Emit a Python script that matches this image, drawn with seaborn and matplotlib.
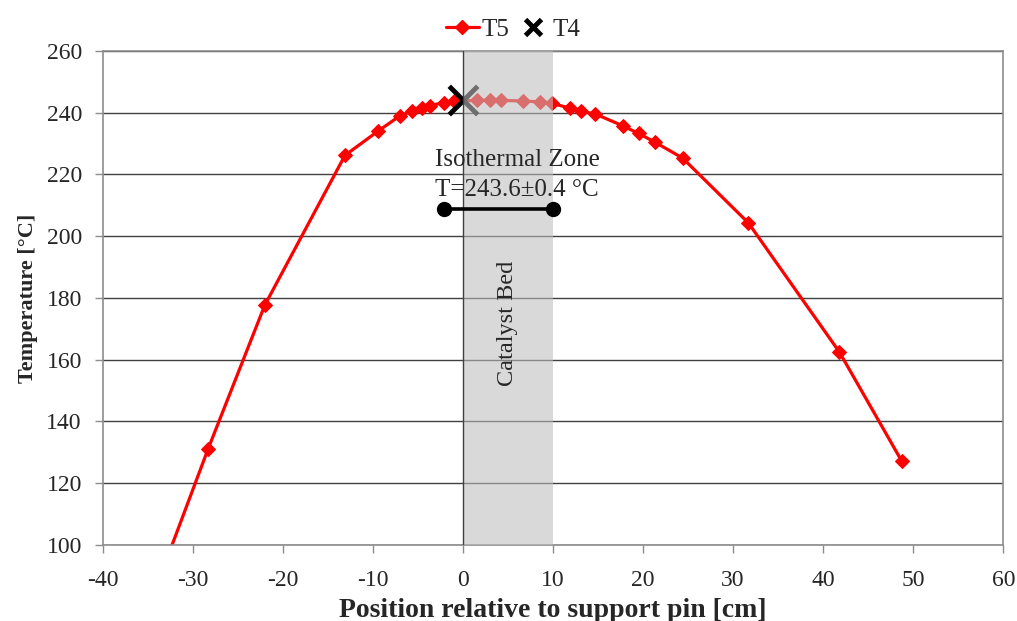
import numpy as np
import pandas as pd
import matplotlib
matplotlib.use('Agg')
import matplotlib.pyplot as plt
import seaborn as sns
from matplotlib.lines import Line2D

# T5 profile: position [cm] vs temperature [°C]
t5_pos = [-35.0, -28.3, -22.0, -13.1, -9.4, -7.0, -5.7, -4.6, -3.7, -2.1, -1.0,
          1.6, 3.0, 4.2, 6.7, 8.6, 9.9,
          11.9, 13.1, 14.7, 17.8, 19.5, 21.3, 24.4, 31.7, 41.8, 48.7]
t5_temp = [79.0, 131.1, 177.7, 226.2, 234.1, 239.0, 240.5, 241.6, 242.3, 243.3, 243.8,
           244.0, 244.1, 244.0, 243.8, 243.5, 243.0,
           241.5, 240.4, 239.6, 235.7, 233.3, 230.5, 225.3, 204.3, 162.5, 127.3]

# T4 single reading
t4_pos = [0.0]
t4_temp = [244.1]

# isothermal zone bar
iso_pos = [-2.1, 10.0]
iso_temp = [208.8, 208.8]

sns.set_style('white')
plt.rcParams['font.family'] = ['Liberation Serif', 'DejaVu Serif']
plt.rcParams['axes.unicode_minus'] = False

df5 = pd.DataFrame({'pos': t5_pos, 'temp': t5_temp})
df4 = pd.DataFrame({'pos': t4_pos, 'temp': t4_temp})

fig = plt.figure(figsize=(10.17, 6.21), dpi=100)
ax = fig.add_axes([0.101, 0.1224, 0.8855, 0.7955])

sns.lineplot(data=df5, x='pos', y='temp', ax=ax, color='#ff0000', linewidth=2.3,
             marker='D', markersize=7, markeredgecolor='#ff0000', sort=False, zorder=2)
sns.scatterplot(data=df4, x='pos', y='temp', ax=ax, color='black', marker='x',
                s=420, linewidth=3.5, zorder=2)

# catalyst bed shading
ax.axvspan(0, 10, color=(0.745, 0.745, 0.745), alpha=0.58, lw=0, zorder=3)
ax.axvline(0, color='#404040', lw=1, zorder=4)

ax.plot(iso_pos, iso_temp, color='black', lw=2.6, marker='o', markersize=10, zorder=5)
ax.text(6.0, 224.7, 'Isothermal Zone', ha='center', va='center', fontsize=18, zorder=5)
ax.text(6.0, 215.0, 'T=243.6±0.4 °C', ha='center', va='center', fontsize=18, zorder=5)
ax.text(5.0, 171.7, 'Catalyst Bed', rotation=90, ha='center', va='center',
        fontsize=17.5, zorder=5)

ax.set_xlim(-40, 60)
ax.set_ylim(100, 260)
ax.set_xticks(np.arange(-40, 61, 10))
ax.set_yticks(np.arange(100, 261, 20))
ax.yaxis.grid(True, color='#404040', lw=1)
ax.set_axisbelow(True)
for s in ax.spines.values():
    s.set_color('#8c8c8c')
    s.set_linewidth(1.2)
ax.tick_params(axis='both', direction='out', length=6, width=1, color='#8c8c8c',
               labelsize=17, left=True, bottom=True)
ax.tick_params(axis='x', pad=12)
ax.tick_params(axis='y', pad=9)

ax.set_xlabel('Position relative to support pin [cm]', fontsize=20, fontweight='bold', labelpad=5)
ax.set_ylabel('Temperature [°C]', fontsize=16, fontweight='bold', labelpad=6)

handles = [Line2D([], [], color='#ff0000', lw=2.3, marker='D', markersize=7),
           Line2D([], [], color='black', lw=0, marker='x', markersize=11, markeredgewidth=3.5)]
ax.legend(handles, ['T5', 'T4'], loc='lower center', bbox_to_anchor=(0.456, 1.0),
          ncol=2, frameon=False, fontsize=18, handlelength=1.3, handletextpad=0.12,
          columnspacing=0.3, borderaxespad=0.0)

fig.savefig('out.png', dpi=100)
